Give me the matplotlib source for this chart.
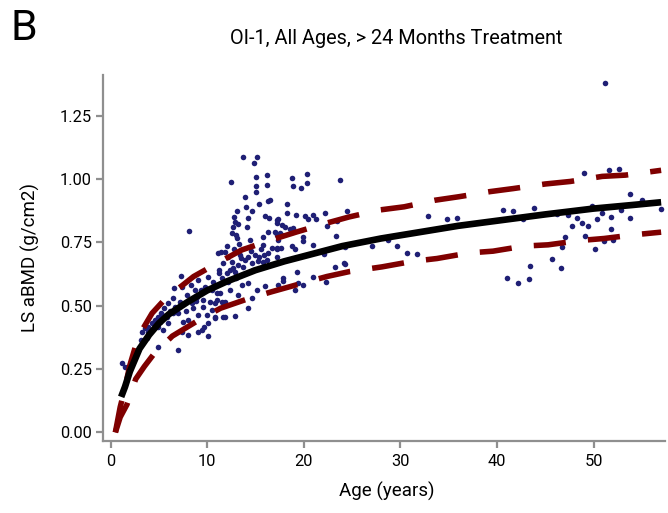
import matplotlib
matplotlib.use("Agg")
import matplotlib.pyplot as plt

plt.rcParams['font.family'] = ['Roboto', 'DejaVu Sans']

# ---- data ----
age = [
    7.30, 6.60, 7.37, 8.33, 9.09, 10.06, 10.64, 11.23, 11.44, 9.37, 8.75, 9.78, 10.48, 10.99,
    7.89, 8.92, 6.50, 5.98, 7.19, 8.41, 9.61, 10.30, 10.82, 11.51, 5.57, 6.68, 8.57, 9.61,
    10.48, 5.30, 5.82, 4.89, 6.50, 9.09, 9.96, 10.82, 11.68, 4.61, 4.27, 5.12, 3.91, 4.95,
    3.57, 3.23, 3.91, 5.47, 7.54, 8.05, 7.37, 8.05, 9.09, 9.71, 10.12, 9.44, 3.75, 3.16,
    10.12, 4.89, 7.02, 1.16, 1.50, 8.16,
    13.69, 15.13, 14.89, 12.47, 15.03, 16.17, 15.03, 16.17, 15.03, 13.92, 15.40, 16.27, 16.51,
    14.00, 14.62, 13.06, 15.99, 16.41, 17.20, 12.82, 14.26, 12.89, 13.23, 12.71, 14.10, 12.55,
    12.96, 13.06, 16.34, 17.03, 15.82, 17.37, 12.03, 12.82, 15.82, 16.69, 17.20, 11.85, 11.16,
    12.19, 13.51, 14.26, 14.96, 16.34, 17.20, 11.68, 12.55, 13.23, 13.75, 14.62, 15.30, 15.82,
    16.17, 11.23, 12.03, 12.89, 11.51, 12.19, 13.58, 14.26, 15.13, 15.99, 11.34, 12.37, 13.23,
    10.99, 11.85, 14.62, 14.26, 11.85, 12.89, 10.82,
    18.76, 20.37, 18.92, 20.37, 19.69, 23.76, 18.24, 18.30, 19.17, 20.13, 20.41, 20.99, 21.24,
    22.20, 17.37, 17.20, 17.72, 18.06, 18.58, 18.92, 23.42, 22.38, 17.55, 17.20, 17.72, 18.82,
    19.96, 19.96, 23.31, 17.20, 17.65, 18.82, 19.10, 20.99, 24.28, 22.13, 23.24, 24.20, 19.28,
    17.89, 17.89, 17.37, 19.44, 19.96, 20.93, 22.28, 19.10,
    51.19, 24.48, 24.28, 27.04, 28.73, 29.66, 30.69, 31.70, 32.87, 34.80, 35.84, 40.66, 41.70,
    42.73, 43.87, 41.08, 42.15, 43.32, 43.46, 45.70, 46.67, 46.74, 47.05, 47.81, 47.39, 46.19,
    48.26, 48.78, 49.40, 49.12, 50.16, 49.05, 49.84, 50.33, 50.88, 51.78, 51.84, 51.12, 52.05,
    51.57, 52.67, 52.85, 53.78, 53.81, 55.05, 56.99,
    13.40, 13.90, 14.50, 15.40, 12.70, 13.30, 14.80, 15.60, 13.00, 14.40, 15.90, 12.40,
    6.20, 7.00, 7.80, 5.20, 6.00, 8.80,
]
bmd = [
    0.617, 0.568, 0.575, 0.582, 0.601, 0.614, 0.595, 0.628, 0.713, 0.562, 0.562, 0.575, 0.562, 0.549,
    0.542, 0.535, 0.529, 0.509, 0.516, 0.509, 0.522, 0.516, 0.509, 0.516, 0.490, 0.496, 0.490, 0.496,
    0.483, 0.463, 0.456, 0.456, 0.470, 0.463, 0.463, 0.450, 0.456, 0.443, 0.430, 0.437, 0.417, 0.417,
    0.411, 0.397, 0.397, 0.404, 0.437, 0.443, 0.397, 0.384, 0.397, 0.415, 0.430, 0.404, 0.371, 0.364,
    0.380, 0.338, 0.325, 0.272, 0.259, 0.795,
    1.088, 1.086, 1.062, 0.987, 1.007, 1.017, 0.974, 0.975, 0.948, 0.930, 0.901, 0.913, 0.917,
    0.891, 0.875, 0.875, 0.854, 0.845, 0.838, 0.851, 0.845, 0.831, 0.822, 0.812, 0.812, 0.786,
    0.779, 0.766, 0.792, 0.792, 0.770, 0.759, 0.735, 0.722, 0.739, 0.726, 0.722, 0.713, 0.707,
    0.693, 0.687, 0.693, 0.700, 0.707, 0.693, 0.667, 0.673, 0.660, 0.654, 0.667, 0.677, 0.673,
    0.680, 0.641, 0.628, 0.634, 0.608, 0.595, 0.582, 0.591, 0.562, 0.578, 0.549, 0.562, 0.542,
    0.522, 0.516, 0.529, 0.490, 0.456, 0.459, 0.456,
    1.005, 1.020, 0.974, 0.983, 0.963, 0.996, 0.900, 0.865, 0.858, 0.854, 0.842, 0.858, 0.841,
    0.867, 0.841, 0.825, 0.818, 0.812, 0.801, 0.808, 0.835, 0.814, 0.788, 0.779, 0.779, 0.792,
    0.770, 0.756, 0.776, 0.726, 0.726, 0.735, 0.724, 0.739, 0.733, 0.704, 0.654, 0.667, 0.634,
    0.610, 0.597, 0.582, 0.588, 0.582, 0.612, 0.592, 0.562,
    1.380, 0.875, 0.664, 0.735, 0.759, 0.735, 0.709, 0.703, 0.854, 0.841, 0.847, 0.878, 0.875,
    0.841, 0.887, 0.608, 0.591, 0.605, 0.657, 0.685, 0.649, 0.733, 0.772, 0.814, 0.858, 0.861,
    0.846, 0.827, 0.814, 0.774, 0.724, 1.025, 0.895, 0.843, 0.865, 0.849, 0.801, 0.755, 0.759,
    1.036, 1.038, 0.878, 0.940, 0.846, 0.917, 0.883,
    0.700, 0.680, 0.715, 0.690, 0.650, 0.745, 0.640, 0.725, 0.610, 0.760, 0.700, 0.640,
    0.480, 0.470, 0.480, 0.470, 0.430, 0.520,
]

fit_age = [1.1, 1.5, 2, 3, 4, 5, 6, 8, 10, 12, 15, 18, 21, 24, 28, 32, 36, 40, 45, 50, 54, 57]
fit_bmd = [0.14, 0.18, 0.24, 0.33, 0.385, 0.43, 0.465, 0.515, 0.56, 0.595, 0.64, 0.675, 0.705,
           0.735, 0.765, 0.79, 0.815, 0.835, 0.86, 0.883, 0.897, 0.908]

upper_age = [0.5, 1.0, 1.4, 2.0, 2.9, 4.3, 5.5, 6.6, 8.6, 11.4, 13.6, 16.7, 19.2, 22.3, 24.7,
             27.95, 30.4, 33.6, 36.1, 39.3, 41.7, 45.0, 47.6, 50.9, 53.3, 57.0]
upper_bmd = [0.0, 0.10, 0.16, 0.265, 0.38, 0.47, 0.52, 0.555, 0.615, 0.675, 0.72, 0.76, 0.79,
             0.825, 0.85, 0.878, 0.89, 0.916, 0.93, 0.95, 0.962, 0.98, 0.99, 1.01, 1.015, 1.034]

lower_age = [0.5, 1.0, 1.7, 2.6, 3.5, 4.5, 6.4, 9.0, 11.4, 14.3, 16.7, 19.8, 22.4, 24.8, 28.1,
             31.3, 33.8, 37.1, 39.6, 42.8, 45.3, 48.6, 51.1, 54.3, 57.0]
lower_bmd = [0.0, 0.06, 0.11, 0.21, 0.26, 0.31, 0.38, 0.44, 0.49, 0.528, 0.555, 0.588, 0.615,
             0.635, 0.653, 0.675, 0.686, 0.708, 0.715, 0.735, 0.74, 0.757, 0.765, 0.78, 0.79]

x_ticks = [0, 10, 20, 30, 40, 50]
y_ticks = [0.00, 0.25, 0.50, 0.75, 1.00, 1.25]

# ---- figure ----
fig = plt.figure(figsize=(6.68, 5.13), dpi=100)
ax = fig.add_axes([103 / 668, 72 / 513, 562 / 668, 366 / 513])

dot_color = '#1f1f75'
red = '#7f0000'
grey = '#8f8f8f'

ax.scatter(age, bmd, s=16, color=dot_color, linewidths=0, zorder=2)
ax.plot(upper_age, upper_bmd, color=red, lw=4.0, dashes=(5.8, 4.0), solid_capstyle='butt',
        dash_capstyle='butt', zorder=3)
ax.plot(lower_age, lower_bmd, color=red, lw=4.0, dashes=(5.8, 4.0), solid_capstyle='butt',
        dash_capstyle='butt', zorder=3)
ax.plot(fit_age, fit_bmd, color='black', lw=4.8, solid_capstyle='butt', zorder=4)

ax.set_xlim(-0.78, 57.4)
ax.set_ylim(-0.034, 1.41)
ax.set_xticks(x_ticks)
ax.set_yticks(y_ticks)
ax.set_xticklabels([str(v) for v in x_ticks])
ax.set_yticklabels([f"{v:.2f}" for v in y_ticks])

for s in ['top', 'right']:
    ax.spines[s].set_visible(False)
for s in ['left', 'bottom']:
    ax.spines[s].set_color(grey)
    ax.spines[s].set_linewidth(1.6)
ax.tick_params(axis='both', colors=grey, labelcolor='black', length=5, width=1.6,
               labelsize=11.8, direction='out')
ax.tick_params(axis='x', pad=4.5)
ax.tick_params(axis='y', pad=3)

ax.set_xlabel('Age (years)', fontsize=13.5)
ax.set_ylabel('LS aBMD (g/cm2)', fontsize=13.5)
ax.xaxis.label.set_va('baseline')
ax.xaxis.set_label_coords(0.505, -0.153)
ax.yaxis.label.set_va('center')
ax.yaxis.set_label_coords(-0.129, 0.5)

fig.text(396.7 / 668, 1 - 44 / 513, 'OI-1, All Ages, > 24 Months Treatment', fontsize=14.3,
         ha='center', va='baseline')
fig.text(10 / 668, 1 - 29 / 513, 'B', fontsize=31, ha='left', va='center')

fig.savefig('out.png', dpi=100)
